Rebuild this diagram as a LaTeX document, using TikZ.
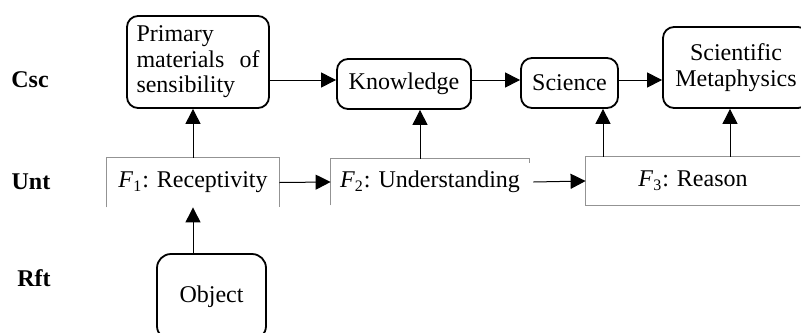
\documentclass[tikz,border=0pt]{standalone}
\usepackage{fontspec}
\setmainfont{Liberation Serif}
\usetikzlibrary{arrows.meta}
\newcommand{\fac}[1]{\textit{F}\textsubscript{#1}}

\begin{document}
\begin{tikzpicture}[x=0.5pt,y=-0.5pt,
  font=\fontsize{12}{12.75}\selectfont,
  cbox/.style={draw,line width=0.9pt,rounded corners=5.5pt,inner sep=0pt},
  ubox/.style={inner sep=0pt},
  uline/.style={gray!85,line width=0.5pt},
  arr/.style={line width=0.5pt,-{Triangle[length=7.5pt,width=7.5pt]}},
  rowlab/.style={font=\fontsize{12}{14}\selectfont\bfseries}]
\useasboundingbox (0,0) rectangle (801,332);
\clip (0,0) rectangle (801,332);
% row labels
\node[rowlab] (csc) at (30,80) {Csc};
\node[rowlab] (unt) at (31,182) {Unt};
\node[rowlab] (rft) at (34,278) {Rft};
% consciousness row
\node[cbox,minimum width=71pt,minimum height=46pt,text width=61.5pt,
  align=justify,inner xsep=4.75pt] (prim) at (198,62) {Primary materials of sensibility};
\node[cbox,minimum width=67pt,minimum height=25pt] (know) at (404,84) {Knowledge};
\node[cbox,minimum width=48.5pt,minimum height=25pt] (sci) at (569.5,83) {Science};
\node[cbox,minimum width=73pt,minimum height=40.5pt,align=center] (meta) at (736,67.5)
  {Scientific\\Metaphysics};
% understanding row
\node[ubox,minimum width=86pt,minimum height=24.5pt] (f1) at (193,182.5) {\fac{1}: Receptivity};
\node[ubox,minimum width=99pt,minimum height=23pt] (f2) at (430,182) {\fac{2}: Understanding};
\node[ubox,minimum width=107pt,minimum height=24pt] (f3) at (693,181) {\fac{3}: Reason};
\draw[uline] (f1.south west) -- (f1.north west) -- (f1.north east) -- (f1.south east);
\draw[uline] (f2.south west) -- (f2.north west) -- (f2.north east) -- ++(0,4);
\draw[uline] (f3.north east) -- (f3.north west) -- (f3.south west) -- (f3.south east);
% reflection row
\node[cbox,rounded corners=7pt,minimum width=54.5pt,minimum height=43pt] (obj) at (211.5,297) {Object};
% arrows
\draw[arr] ([yshift=2pt]know.west -| prim.east) -- ([yshift=2pt]know.west);
\draw[arr] ([yshift=2pt]know.east) -- ([yshift=2pt]know.east -| sci.west);
\draw[arr] ([yshift=1.5pt]sci.east) -- ([yshift=1.5pt]sci.east -| meta.west);
\draw[arr] (f1.east) -- (f2.west);
\draw[arr] ([xshift=2pt]f2.east) -- (f3.west);
\draw[arr] (f1.south |- obj.north) -- (f1.south);
\draw[arr] (f1.north) -- (f1.north |- prim.south);
\draw[arr] ([xshift=8pt]know.south |- f2.north) -- ([xshift=8pt]know.south);
\draw[arr] ([xshift=16.75pt]sci.south |- f3.north) -- ([xshift=16.75pt]sci.south);
\draw[arr] ([xshift=-3pt]meta.south |- f3.north) -- ([xshift=-3pt]meta.south);
\end{tikzpicture}
\end{document}
